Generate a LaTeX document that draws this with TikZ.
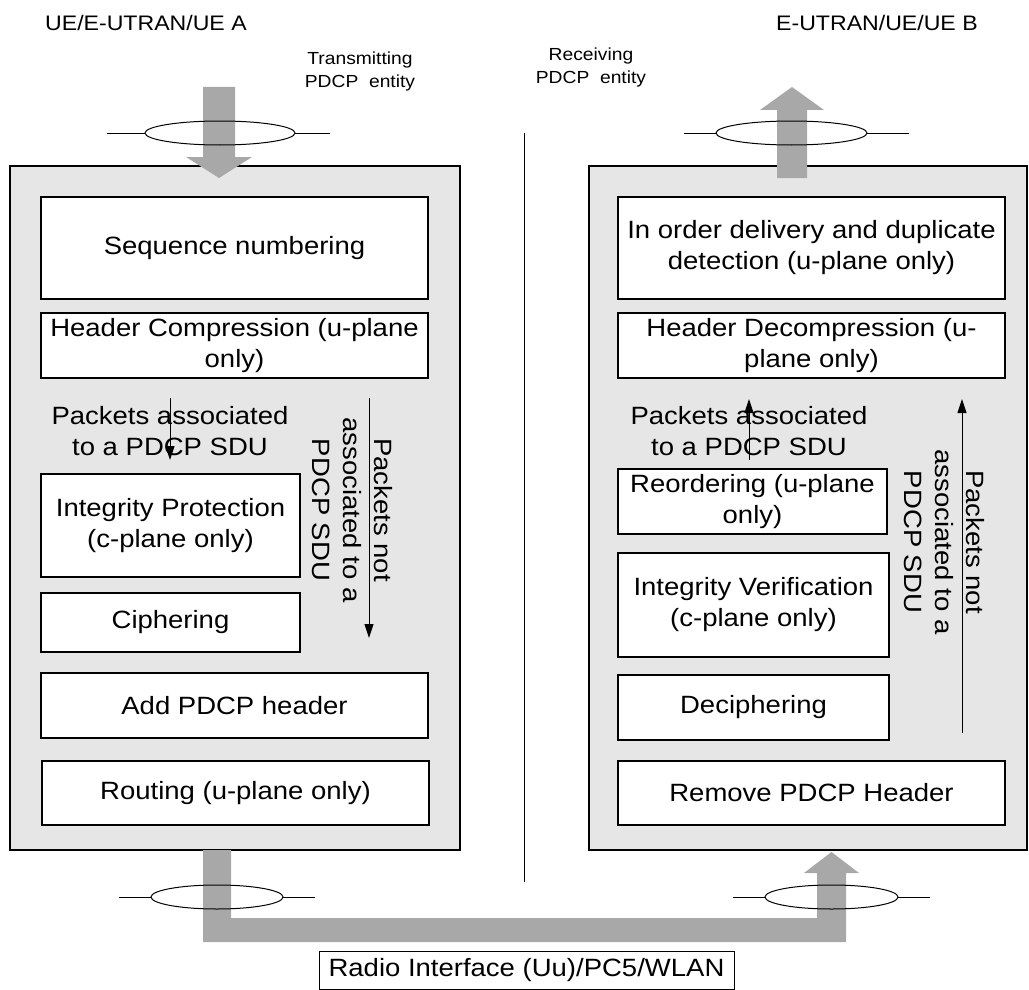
\documentclass[tikz,border=0pt]{standalone}
\usepackage{fontspec}
\setmainfont{Liberation Sans}[FakeStretch=1.1]
\usetikzlibrary{arrows.meta}
\definecolor{panelgrey}{RGB}{230,230,230}
\definecolor{flowgrey}{RGB}{168,168,168}
\newcommand{\boxfont}{\fontsize{25}{31}\selectfont}
\newcommand{\smallfont}{\fontsize{17.5}{23}\selectfont}
\newcommand{\titlefont}{\fontsize{21}{25}\selectfont}

\begin{document}
\begin{tikzpicture}[x=1pt,y=-1pt,
  func/.style={draw,fill=white,line width=1.2pt,align=center,font=\boxfont,inner sep=0pt},
  panel/.style={draw,fill=panelgrey,line width=1.2pt},
  flow/.style={fill=flowgrey},
  sap/.style={line width=1pt},
  lbl/.style={inner sep=0pt,align=center},
  pkt/.style={-{Triangle[length=14pt,width=9pt]},line width=1pt}]
\useasboundingbox (0,0) rectangle (1029,990);

% PDCP entities
\draw[panel] (10,166) rectangle (460,850);
\draw[panel] (589,166) rectangle (1027,850);
\draw[line width=1pt] (524,133) -- (524,882);

% titles
\node[lbl,font=\titlefont,anchor=west] (ueA) at (45,23) {UE/E-UTRAN/UE A};
\node[lbl,font=\titlefont,anchor=west] (ueB) at (776,23) {E-UTRAN/UE/UE B};
\node[lbl,font=\smallfont] (txent) at (360,71) {Transmitting\\PDCP\ \ entity};
\node[lbl,font=\smallfont] (rxent) at (591,67) {Receiving\\PDCP\ \ entity};

% transmitting side
\node[func,minimum width=387,minimum height=102] (seqnum) at (234.5,248) {Sequence numbering};
\node[func,minimum width=387,minimum height=65] (hdrcomp) at (234.5,345.5) {Header Compression (u-plane\\only)};
\node[lbl,font=\boxfont] (txassoc) at (170,431) {Packets associated\\to a PDCP SDU};
\node[func,minimum width=259,minimum height=103] (intprot) at (170.5,525.5) {Integrity Protection\\(c-plane only)};
\node[func,minimum width=259,minimum height=59] (ciph) at (170.5,622.5) {Ciphering};
\node[func,minimum width=387,minimum height=65] (addhdr) at (234.5,705.5) {Add PDCP header};
\node[func,minimum width=387,minimum height=64] (routing) at (235.5,793) {Routing (u-plane only)};
\node[lbl,font=\boxfont,rotate=-90] (txnotassoc) at (352,510) {Packets not\\associated to a\\PDCP SDU};

% receiving side
\node[func,minimum width=387,minimum height=102] (inorder) at (811.5,248) {In order delivery and duplicate\\detection (u-plane only)};
\node[func,minimum width=387,minimum height=65] (hdrdecomp) at (811.5,345.5) {Header Decompression (u-\\plane only)};
\node[lbl,font=\boxfont] (rxassoc) at (749,431) {Packets associated\\to a PDCP SDU};
\node[func,minimum width=269,minimum height=65] (reorder) at (752.5,501.5) {Reordering (u-plane\\only)};
\node[func,minimum width=271,minimum height=104] (intver) at (753.5,605) {Integrity Verification\\(c-plane only)};
\node[func,minimum width=271,minimum height=65] (deciph) at (753.5,707.5) {Deciphering};
\node[func,minimum width=387,minimum height=64] (remhdr) at (811.5,793) {Remove PDCP Header};
\node[lbl,font=\boxfont,rotate=-90] (rxnotassoc) at (944,542) {Packets not\\associated to a\\PDCP SDU};

% packet flows inside the entities
\coordinate (txa top) at (170,398);
\coordinate (txa end) at (170,460);
\coordinate (txn top) at (369,398);
\coordinate (txn end) at (369,638);
\coordinate (rxa bot) at (749,460);
\coordinate (rxa end) at (749,399);
\coordinate (rxn bot) at (962,733);
\coordinate (rxn end) at (962,399);
\draw[pkt] (txa top) -- (txa end);
\draw[pkt] (txn top) -- (txn end);
\draw[pkt] (rxa bot) -- (rxa end);
\draw[pkt] (rxn bot) -- (rxn end);

% grey data flow
\fill[flow] (203,87) -- (235,87) -- (235,157) -- (252,157) -- (219,178) -- (186,157) -- (203,157) -- cycle;
\fill[flow] (777,178) -- (777,110) -- (760,110) -- (792,87) -- (824,110) -- (807,110) -- (807,178) -- cycle;
\fill[flow] (203,850) -- (203,942) -- (846,942) -- (846,873) -- (859,873) -- (831.5,852)
  -- (804,873) -- (817,873) -- (817,918) -- (231,918) -- (231,850) -- cycle;

% service access points
\draw[sap] (107,133) -- (145,133) (295,133) -- (330,133);
\draw[sap] (220,133) ellipse [x radius=75pt, y radius=12pt];
\draw[sap] (684,133) -- (716,133) (867,133) -- (909,133);
\draw[sap] (791.5,133) ellipse [x radius=75.5pt, y radius=12pt];
\draw[sap] (119,897) -- (151,897) (283,897) -- (315,897);
\draw[sap] (217,897) ellipse [x radius=66pt, y radius=12pt];
\draw[sap] (733,897) -- (765,897) (898,897) -- (930,897);
\draw[sap] (831.5,897) ellipse [x radius=66.5pt, y radius=12pt];

% radio interface
\node[draw,line width=1pt,font=\boxfont,minimum width=415,minimum height=38,inner sep=0pt] (radio) at (526.5,970) {Radio Interface (Uu)/PC5/WLAN};
\end{tikzpicture}
\end{document}
